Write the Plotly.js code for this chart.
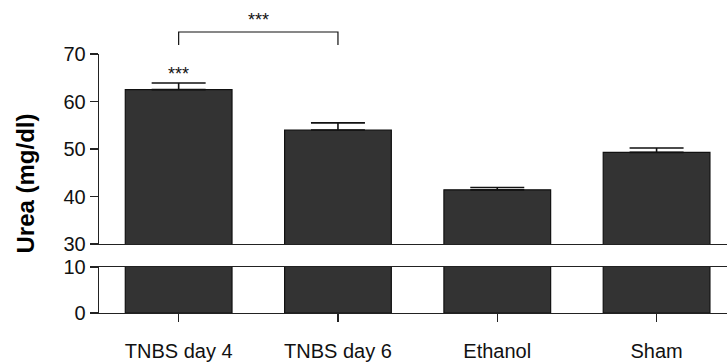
<!DOCTYPE html>
<html>
<head>
<meta charset="utf-8">
<script src="https://cdn.plot.ly/plotly-3.0.1.min.js"></script>
<style>html,body{margin:0;padding:0;background:#fff;}#chart{width:727px;height:363px;}</style>
</head>
<body>
<div id="chart"></div>
<script>
// Data
var categories = ["TNBS day 4", "TNBS day 6", "Ethanol", "Sham"];
var ureaMean = [62.5, 54.0, 41.4, 49.3];
var ureaErr = [1.4, 1.5, 0.5, 0.9];
var lowerTicks = [0, 10];
var upperTicks = [30, 40, 50, 60, 70];
var barStars = ["***", "", "", ""];
var comparisons = [{from: 0, to: 1, label: "***"}];

var xIdx = categories.map(function (c, i) { return i; });
var fillColor = "#333333";
var edgeColor = "#111111";
var axisColor = "#222222";
var fontFam = "Liberation Sans, Arial, sans-serif";

var barLower = {
  type: "bar", x: xIdx, y: ureaMean, xaxis: "x", yaxis: "y",
  width: 0.67,
  marker: {color: fillColor, line: {color: edgeColor, width: 1.2}},
  hoverinfo: "skip", showlegend: false
};
var barUpper = {
  type: "bar", x: xIdx, y: ureaMean, xaxis: "x2", yaxis: "y2",
  width: 0.67,
  marker: {color: fillColor, line: {color: edgeColor, width: 1.2}},
  error_y: {type: "data", array: ureaErr, arrayminus: ureaErr.map(function(){return 0;}),
            symmetric: false, color: "#111", thickness: 1.6, width: 27},
  hoverinfo: "skip", showlegend: false
};

var plotTop = 54, plotBottom = 313, H = 363;
var plotH = plotBottom - plotTop;
function paperY(px) { return (plotBottom - px) / plotH; }

var annotations = [];
barStars.forEach(function (s, i) {
  if (!s) return;
  annotations.push({
    x: i, xref: "x2", y: ureaMean[i] + ureaErr[i], yref: "y2",
    text: s, showarrow: false, yanchor: "bottom", yshift: -3,
    font: {family: fontFam, size: 18, color: "#111"}
  });
});
var shapes = [];
comparisons.forEach(function (c) {
  var yTop = paperY(32), yLeg = paperY(45);
  shapes.push({type: "path", xref: "x", yref: "paper",
    path: "M " + c.from + " " + yLeg + " L " + c.from + " " + yTop + " L " + c.to + " " + yTop + " L " + c.to + " " + yLeg,
    line: {color: "#111", width: 1.2}});
  annotations.push({
    x: (c.from + c.to) / 2, xref: "x", y: yTop, yref: "paper",
    text: c.label, showarrow: false, yanchor: "bottom", yshift: 0,
    font: {family: fontFam, size: 18, color: "#111"}
  });
});
annotations.push({
  x: (25 - 99) / (727 - 99), xref: "paper", xanchor: "center", y: 0.5, yref: "paper",
  text: "<b>Urea (mg/dl)</b>", textangle: -90, showarrow: false,
  font: {family: fontFam, size: 24, color: "#000"}
});

var layout = {
  width: 727, height: 363,
  margin: {l: 99, r: 0, t: plotTop, b: H - plotBottom, pad: 0},
  paper_bgcolor: "#fff", plot_bgcolor: "#fff",
  font: {family: fontFam, size: 20, color: "#111"},
  xaxis: {
    anchor: "y", domain: [0, 1], range: [-0.5, 3.442],
    tickmode: "array", tickvals: xIdx, ticktext: categories,
    ticks: "outside", ticklen: 8, tickwidth: 1.3, tickcolor: axisColor,
    showline: true, linecolor: axisColor, linewidth: 1.3, mirror: true,
    showgrid: false, zeroline: false, ticklabelstandoff: 12,
    tickfont: {family: fontFam, size: 20, color: "#111"}
  },
  xaxis2: {
    anchor: "y2", matches: "x", domain: [0, 1],
    showline: true, linecolor: axisColor, linewidth: 1.3,
    showticklabels: false, ticks: "", showgrid: false, zeroline: false
  },
  yaxis: {
    domain: [0, paperY(267)], range: [0, 10],
    tickmode: "array", tickvals: lowerTicks,
    ticks: "outside", ticklen: 8, tickwidth: 1.3, tickcolor: axisColor,
    showline: true, linecolor: axisColor, linewidth: 1.3,
    showgrid: false, zeroline: false,
    tickfont: {family: fontFam, size: 20, color: "#111"}
  },
  yaxis2: {
    domain: [paperY(244), 1], range: [30, 70],
    tickmode: "array", tickvals: upperTicks,
    ticks: "outside", ticklen: 8, tickwidth: 1.3, tickcolor: axisColor,
    showline: true, linecolor: axisColor, linewidth: 1.3,
    showgrid: false, zeroline: false,
    tickfont: {family: fontFam, size: 20, color: "#111"}
  },
  shapes: shapes,
  annotations: annotations
};

Plotly.newPlot("chart", [barLower, barUpper], layout, {staticPlot: true, displayModeBar: false});
</script>
</body>
</html>
